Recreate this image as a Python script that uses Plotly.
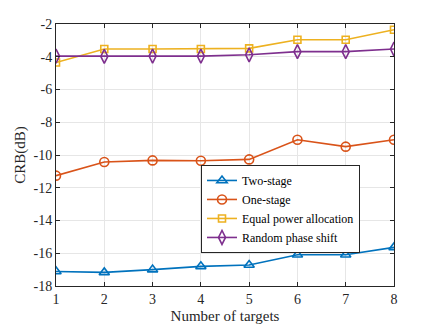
import plotly.graph_objects as go

# data
targets = [1, 2, 3, 4, 5, 6, 7, 8]
two_stage = [-17.11, -17.17, -17.0, -16.8, -16.72, -16.09, -16.09, -15.64]
one_stage = [-11.26, -10.43, -10.33, -10.35, -10.27, -9.07, -9.49, -9.07]
equal_power = [-4.35, -3.53, -3.53, -3.53, -3.49, -2.96, -2.96, -2.35]
random_phase = [-3.96, -3.98, -3.96, -3.96, -3.88, -3.69, -3.69, -3.53]

y_ticks = [-18, -16, -14, -12, -10, -8, -6, -4, -2]
y_ticklabels = ['-18', '-16', '-14', '-12', '-10', '-8', '-6', '-4', '-2']

names = ['Two-stage', 'One-stage', 'Equal power allocation', 'Random phase shift']
colors = ['#0072BD', '#D95319', '#EDB120', '#7E2F8E']
symbols = ['triangle-up-open', 'circle-open', 'square-open', 'diamond-tall-open']
sizes = [9, 9, 7, 10]

serif = 'Liberation Serif'

fig = go.Figure()
for yd, nm, cl, sym, sz in zip([two_stage, one_stage, equal_power, random_phase],
                               names, colors, symbols, sizes):
    fig.add_trace(go.Scatter(
        x=targets, y=yd, name=nm, mode='lines+markers',
        line=dict(color=cl, width=1.6),
        marker=dict(symbol=sym, size=sz, color=cl, line=dict(color=cl, width=1.6))))

axis_style = dict(
    showline=True, linecolor='#262626', linewidth=1, mirror='ticks',
    ticks='inside', ticklen=4, tickcolor='#262626', automargin=False,
    showgrid=True, gridcolor='#e6e6e6', gridwidth=1, zeroline=False,
    tickfont=dict(family=serif, size=14, color='#262626'))

fig.update_xaxes(range=[1, 8], dtick=1, title=dict(text='Number of targets', standoff=4,
                 font=dict(family=serif, size=15, color='#262626')), **axis_style)
fig.update_yaxes(range=[-18, -2], tickvals=y_ticks, ticktext=y_ticklabels,
                 title=dict(text='CRB(dB)', standoff=4,
                 font=dict(family=serif, size=15, color='#262626')), **axis_style)

# page has an 8px body margin, so the figure is offset by 8px
fig.update_layout(
    width=436, height=327,
    margin=dict(l=48, r=50, t=16, b=49),
    paper_bgcolor='white', plot_bgcolor='white',
    font=dict(family=serif, color='#262626'),
    legend=dict(x=0.429, y=0.462, xanchor='left', yanchor='top',
                bgcolor='white', bordercolor='#262626', borderwidth=1,
                font=dict(family=serif, size=12, color='black'),
                tracegroupgap=0, itemwidth=30))

fig.write_html("out.html")
